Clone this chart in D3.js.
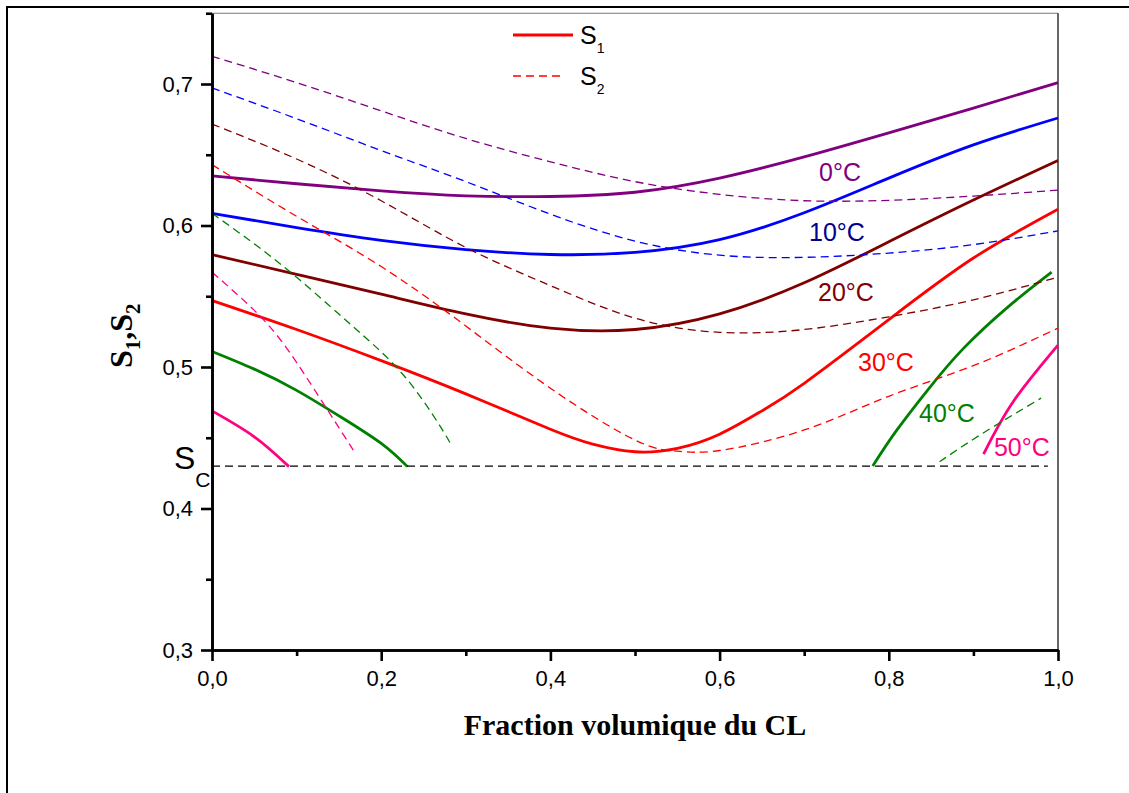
<!DOCTYPE html>
<html>
<head>
<meta charset="utf-8">
<script src="https://cdn.jsdelivr.net/npm/d3@7"></script>
<style>
  body { margin: 0; background: #fff; }
</style>
</head>
<body>
<svg id="chart" width="1129" height="793"></svg>
<script>
// ---- data ----
var temps = ["0°C", "10°C", "20°C", "30°C", "40°C", "50°C"];

// common abscissa for the curves that span the whole range
var phi = [0, 0.1, 0.2, 0.3, 0.4, 0.5, 0.6, 0.7, 0.8, 0.9, 1.0];

// S1 (solid) per temperature
var s1_0 = [0.635, 0.6295, 0.6245, 0.621, 0.6205, 0.6235, 0.6335, 0.6485, 0.6655, 0.683, 0.701];
var s1_10 = [0.6086, 0.5985, 0.5895, 0.583, 0.5795, 0.581, 0.590, 0.609, 0.6335, 0.657, 0.676];
var s1_20 = [0.5794, 0.5655, 0.5515, 0.5375, 0.5275, 0.5265, 0.5375, 0.5595, 0.5885, 0.618, 0.646];
var s1_30_x = [0, 0.1, 0.2, 0.3, 0.4, 0.45, 0.5, 0.55, 0.6, 0.65, 0.7, 0.8, 0.9, 1.0];
var s1_30_y = [0.547, 0.5265, 0.5045, 0.481, 0.456, 0.4455, 0.4401, 0.4425, 0.4525, 0.469, 0.4885, 0.5335, 0.577, 0.6115];
var s1_40a_x = [0, 0.05, 0.1, 0.15, 0.2, 0.231];
var s1_40a_y = [0.511, 0.4985, 0.4835, 0.4655, 0.446, 0.4296];
var s1_40b_x = [0.781, 0.809, 0.849, 0.888, 0.94, 0.9925];
var s1_40b_y = [0.430, 0.455, 0.486, 0.513, 0.542, 0.567];
var s1_50a_x = [0, 0.05, 0.091];
var s1_50a_y = [0.469, 0.4507, 0.4296];
var s1_50b_x = [0.912, 0.947, 1.0];
var s1_50b_y = [0.4385, 0.4755, 0.5155];

// S2 (dashed) per temperature
var s2_0 = [0.7196, 0.701, 0.681, 0.6615, 0.645, 0.631, 0.622, 0.6175, 0.6178, 0.6208, 0.625];
var s2_10 = [0.6972, 0.6755, 0.653, 0.631, 0.608, 0.589, 0.579, 0.5775, 0.5805, 0.5865, 0.5962];
var s2_20 = [0.6717, 0.647, 0.6175, 0.5845, 0.5575, 0.5345, 0.5245, 0.5265, 0.5355, 0.5475, 0.5635];
var s2_30_x = [0, 0.1, 0.2, 0.3, 0.4, 0.5, 0.55, 0.6, 0.7, 0.8, 0.9, 1.0];
var s2_30_y = [0.643, 0.6065, 0.571, 0.529, 0.485, 0.4484, 0.4405, 0.441, 0.4555, 0.4793, 0.501, 0.5275];
var s2_40a_x = [0, 0.05, 0.10, 0.15, 0.183, 0.228, 0.2675, 0.284];
var s2_40a_y = [0.6086, 0.587, 0.5634, 0.5374, 0.520, 0.4931, 0.4602, 0.4437];
var s2_40b_x = [0.86, 0.908, 0.98];
var s2_40b_y = [0.433, 0.452, 0.478];
var s2_50_x = [0, 0.05, 0.085, 0.12, 0.167];
var s2_50_y = [0.567, 0.540, 0.516, 0.485, 0.4413];

// critical value S_C
var sCritical = 0.43;
var sCriticalEnd = 0.988;

// where each temperature label sits (data units, left/baseline)
var label_x = [0.7175, 0.7057, 0.7163, 0.7636, 0.8357, 0.9243];
var label_y = [0.6314, 0.589, 0.5466, 0.4972, 0.4611, 0.4371];

var xMajor = [0, 0.2, 0.4, 0.6, 0.8, 1.0];
var xMinor = [0.1, 0.3, 0.5, 0.7, 0.9];
var yMajor = [0.3, 0.4, 0.5, 0.6, 0.7];
var yMinor = [0.35, 0.45, 0.55, 0.65, 0.75];

// ---- styling ----
var colors = ["#800080", "#0000ff", "#800000", "#ff0000", "#008000", "#ff0080"];
var labelColors = ["#800080", "#00008b", "#800000", "#ff0000", "#008000", "#ff0080"];
var sansFont = "'Liberation Sans', Arial, sans-serif";
var serifFont = "'Liberation Serif', 'Times New Roman', serif";

function zip(xs, ys) {
    return xs.map(function (d, i) { return [d, ys[i]]; });
}

var series = [
    {t: 0, kind: 1, pts: zip(phi, s1_0)},
    {t: 1, kind: 1, pts: zip(phi, s1_10)},
    {t: 2, kind: 1, pts: zip(phi, s1_20)},
    {t: 3, kind: 1, pts: zip(s1_30_x, s1_30_y)},
    {t: 4, kind: 1, pts: zip(s1_40a_x, s1_40a_y)},
    {t: 4, kind: 1, pts: zip(s1_40b_x, s1_40b_y)},
    {t: 5, kind: 1, pts: zip(s1_50a_x, s1_50a_y)},
    {t: 5, kind: 1, pts: zip(s1_50b_x, s1_50b_y)},
    {t: 0, kind: 2, pts: zip(phi, s2_0)},
    {t: 1, kind: 2, pts: zip(phi, s2_10)},
    {t: 2, kind: 2, pts: zip(phi, s2_20)},
    {t: 3, kind: 2, pts: zip(s2_30_x, s2_30_y)},
    {t: 4, kind: 2, pts: zip(s2_40a_x, s2_40a_y)},
    {t: 4, kind: 2, pts: zip(s2_40b_x, s2_40b_y)},
    {t: 5, kind: 2, pts: zip(s2_50_x, s2_50_y)}
];

var svg = d3.select("#chart");

// outer frame (cut at right/bottom edges)
svg.append("path")
    .attr("d", "M7,793 L7,7 L1129,7")
    .attr("fill", "none")
    .attr("stroke", "#000")
    .attr("stroke-width", 2);

var x = d3.scaleLinear().domain([0, 1]).range([212, 1058]);
var y = d3.scaleLinear().domain([0.3, 0.75]).range([650, 13.25]);

var comma = function (d) { return d3.format(".1f")(d).replace(".", ","); };

// top & right frame of the plot
svg.append("line")
    .attr("x1", x(0)).attr("x2", x(1)).attr("y1", y(0.75)).attr("y2", y(0.75))
    .attr("stroke", "#777").attr("stroke-width", 1.2);
svg.append("line")
    .attr("x1", x(1)).attr("x2", x(1)).attr("y1", y(0.75)).attr("y2", y(0.3))
    .attr("stroke", "#000").attr("stroke-width", 1.2);

// curves
var line = d3.line()
    .x(function (d) { return x(d[0]); })
    .y(function (d) { return y(d[1]); })
    .curve(d3.curveNatural);

svg.append("g").attr("class", "curves")
    .selectAll("path")
    .data(series)
    .join("path")
    .attr("d", function (d) { return line(d.pts); })
    .attr("fill", "none")
    .attr("stroke", function (d) { return colors[d.t]; })
    .attr("stroke-width", function (d) { return d.kind === 1 ? 2.8 : 1.3; })
    .attr("stroke-dasharray", function (d) { return d.kind === 1 ? null : "8,5"; });

// S_C line
svg.append("line")
    .attr("x1", x(0)).attr("x2", x(sCriticalEnd))
    .attr("y1", y(sCritical)).attr("y2", y(sCritical))
    .attr("stroke", "#000")
    .attr("stroke-width", 1.3)
    .attr("stroke-dasharray", "8,5");

// temperature labels
svg.append("g").selectAll("text")
    .data(temps)
    .join("text")
    .attr("x", function (d, i) { return x(label_x[i]); })
    .attr("y", function (d, i) { return y(label_y[i]); })
    .attr("fill", function (d, i) { return labelColors[i]; })
    .attr("font-family", sansFont)
    .attr("font-size", "25px")
    .text(function (d) { return d; });

// axes
function styleAxis(g) {
    g.select(".domain").attr("stroke-width", 2.6);
    g.selectAll(".tick line").attr("stroke-width", 2.6);
    g.selectAll("text")
        .attr("font-family", sansFont)
        .attr("font-size", "22px")
        .attr("fill", "#000");
}

svg.append("g")
    .attr("transform", "translate(0," + y(0.3) + ")")
    .call(d3.axisBottom(x).tickValues(xMinor).tickSize(6).tickFormat("").tickSizeOuter(0))
    .call(styleAxis);
svg.append("g")
    .attr("transform", "translate(0," + y(0.3) + ")")
    .call(d3.axisBottom(x).tickValues(xMajor).tickSize(11).tickPadding(9).tickFormat(comma).tickSizeOuter(0))
    .call(styleAxis);

svg.append("g")
    .attr("transform", "translate(" + x(0) + ",0)")
    .call(d3.axisLeft(y).tickValues(yMinor).tickSize(6).tickFormat("").tickSizeOuter(0))
    .call(styleAxis);
svg.append("g")
    .attr("transform", "translate(" + x(0) + ",0)")
    .call(d3.axisLeft(y).tickValues(yMajor).tickSize(11).tickPadding(8).tickFormat(comma).tickSizeOuter(0))
    .call(styleAxis);

// S_C label
var sc = svg.append("text")
    .attr("x", 174)
    .attr("y", y(sCritical) + 3)
    .attr("font-family", sansFont)
    .attr("font-size", "32px")
    .attr("fill", "#000")
    .text("S");
sc.append("tspan")
    .attr("dy", 18)
    .attr("font-size", "21px")
    .text("C");

// axis titles
svg.append("text")
    .attr("x", (x(0) + x(1)) / 2)
    .attr("y", 735)
    .attr("text-anchor", "middle")
    .attr("font-family", serifFont)
    .attr("font-weight", "bold")
    .attr("font-size", "30px")
    .text("Fraction volumique du CL");

var yt = svg.append("text")
    .attr("transform", "translate(132,368) rotate(-90)")
    .attr("font-family", serifFont)
    .attr("font-weight", "bold")
    .attr("font-size", "32px");
yt.append("tspan").text("S");
yt.append("tspan").attr("dy", 8).attr("font-size", "21px").text("1");
yt.append("tspan").attr("dy", -8).text(",S");
yt.append("tspan").attr("dy", 8).attr("font-size", "21px").text("2");

// legend
var legend = svg.append("g").attr("class", "legend");
var legendItems = [{dash: null, w: 2.8, ly: 35, sub: "1"}, {dash: "8,5", w: 1.3, ly: 76, sub: "2"}];
legendItems.forEach(function (it) {
    legend.append("line")
        .attr("x1", 513).attr("x2", it.dash ? 562 : 573)
        .attr("y1", it.ly).attr("y2", it.ly)
        .attr("stroke", colors[3])
        .attr("stroke-width", it.w)
        .attr("stroke-dasharray", it.dash);
    var t = legend.append("text")
        .attr("x", 580)
        .attr("y", it.ly + 9)
        .attr("font-family", sansFont)
        .attr("font-size", "25px")
        .text("S");
    t.append("tspan").attr("dy", 9).attr("font-size", "14px").text(it.sub);
});
</script>
</body>
</html>
